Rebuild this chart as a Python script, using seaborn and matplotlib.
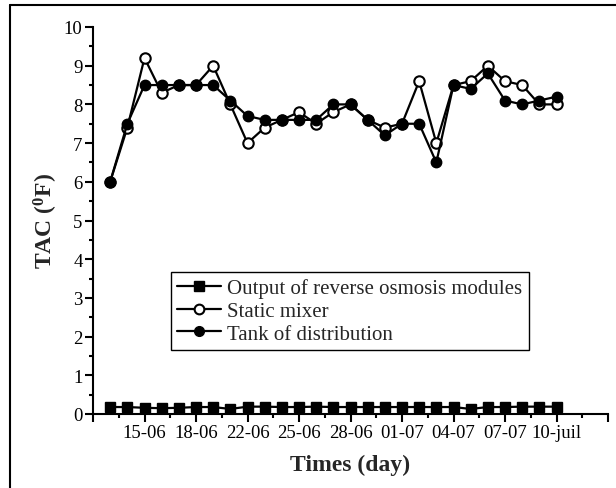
import matplotlib
matplotlib.use("Agg")
import matplotlib.pyplot as plt
import seaborn as sns
import numpy as np
import pandas as pd
from matplotlib.lines import Line2D
from matplotlib.ticker import FixedLocator, MultipleLocator

# ---- data ----
day_index = list(range(27))
output_ro = [0.18, 0.18, 0.16, 0.15, 0.16, 0.18, 0.18, 0.13, 0.19, 0.19, 0.18, 0.18,
             0.19, 0.18, 0.18, 0.18, 0.18, 0.18, 0.18, 0.18, 0.18, 0.13, 0.18, 0.18,
             0.19, 0.19, 0.19]
static_mixer = [6.0, 7.4, 9.2, 8.3, 8.5, 8.5, 9.0, 8.0, 7.0, 7.4, 7.6, 7.8,
                7.5, 7.8, 8.0, 7.6, 7.4, 7.5, 8.6, 7.0, 8.5, 8.6, 9.0, 8.6,
                8.5, 8.0, 8.0]
tank = [6.0, 7.5, 8.5, 8.5, 8.5, 8.5, 8.5, 8.1, 7.7, 7.6, 7.6, 7.6,
        7.6, 8.0, 8.0, 7.6, 7.2, 7.5, 7.5, 6.5, 8.5, 8.4, 8.8, 8.1,
        8.0, 8.1, 8.2]
tick_positions = [-1, 2, 5, 8, 11, 14, 17, 20, 23, 26, 29]
tick_labels = ['', '15-06', '18-06', '22-06', '25-06', '28-06', '01-07',
               '04-07', '07-07', '10-juil', '']
series_names = ['Output of reverse osmosis modules', 'Static mixer',
                'Tank of distribution']

df = pd.DataFrame({'day': day_index, 'ro': output_ro,
                   'mixer': static_mixer, 'tank': tank})

sns.set_style('ticks')
plt.rcParams['font.family'] = ['Liberation Serif', 'DejaVu Serif']
plt.rcParams['mathtext.fontset'] = 'custom'
plt.rcParams['mathtext.rm'] = 'Liberation Serif'
plt.rcParams['mathtext.bf'] = 'Liberation Serif:bold'

fig = plt.figure(figsize=(6.16, 4.89), dpi=100)
ax = fig.add_axes([93/616, 1-415/489, (608-93)/616, (415-28)/489])

lw = 1.6
sns.lineplot(data=df, x='day', y='ro', ax=ax, color='black', lw=lw,
             marker='s', markersize=7.5, markerfacecolor='black',
             markeredgecolor='black', markeredgewidth=1, zorder=3)
sns.lineplot(data=df, x='day', y='mixer', ax=ax, color='black', lw=lw,
             marker='o', markersize=7.5, markerfacecolor='white',
             markeredgecolor='black', markeredgewidth=1.5, zorder=3)
sns.lineplot(data=df, x='day', y='tank', ax=ax, color='black', lw=lw,
             marker='o', markersize=7.5, markerfacecolor='black',
             markeredgecolor='black', markeredgewidth=1, zorder=4)

ax.set_xlim(-1, 29)
ax.set_ylim(0, 10)
ax.xaxis.set_major_locator(FixedLocator(tick_positions))
ax.set_xticklabels(tick_labels)
ax.xaxis.set_minor_locator(FixedLocator([p + 1.5 for p in tick_positions[:-1]]))
ax.yaxis.set_major_locator(MultipleLocator(1))
ax.yaxis.set_minor_locator(MultipleLocator(0.5))

for s in ['top', 'right']:
    ax.spines[s].set_visible(False)
for s in ['left', 'bottom']:
    ax.spines[s].set_linewidth(1.5)
    ax.spines[s].set_color('black')

ax.tick_params(which='major', direction='out', length=5.5, width=1.5,
               labelsize=13.5, colors='black', pad=2)
ax.tick_params(which='minor', direction='out', length=3, width=1.5, colors='black')

ax.set_xlabel('Times (day)', fontsize=17, fontweight='bold', labelpad=9)
ax.set_ylabel(r'TAC ($\mathbf{^{0}}$F)', fontsize=17, fontweight='bold', labelpad=3)

handles = [
    Line2D([], [], color='black', lw=lw, marker='s', markersize=6.5,
           markerfacecolor='black', markeredgecolor='black'),
    Line2D([], [], color='black', lw=lw, marker='o', markersize=7,
           markerfacecolor='white', markeredgecolor='black', markeredgewidth=1.5),
    Line2D([], [], color='black', lw=lw, marker='o', markersize=7,
           markerfacecolor='black', markeredgecolor='black'),
]
leg = ax.legend(handles, series_names, loc='upper left',
                bbox_to_anchor=((171-93)/515, (415-273)/387),
                borderaxespad=0, fontsize=15, frameon=True, fancybox=False,
                edgecolor='black', framealpha=1, handlelength=2.1,
                handletextpad=0.3, labelspacing=0.15, borderpad=0.3)
leg.get_frame().set_linewidth(1.0)

# figure frame (top and left edges visible)
fig.add_artist(Line2D([10/616, 1.0], [1-6/489, 1-6/489], transform=fig.transFigure,
                      color='black', lw=1.5))
fig.add_artist(Line2D([10/616, 10/616], [0.0, 1-6/489], transform=fig.transFigure,
                      color='black', lw=1.5))

fig.savefig('out.png', dpi=100)
